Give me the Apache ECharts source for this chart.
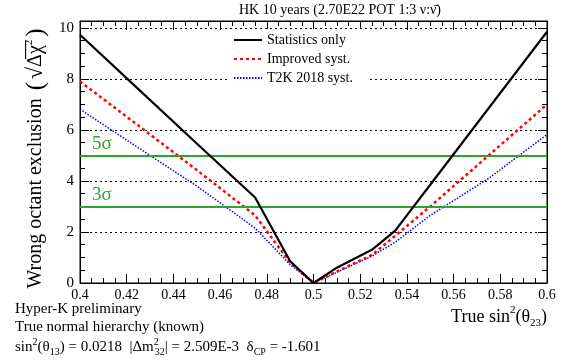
<!DOCTYPE html>
<html>
<head>
<meta charset="utf-8">
<script src="https://cdn.jsdelivr.net/npm/echarts@6/dist/echarts.min.js"></script>
<style>
  html, body { margin: 0; padding: 0; background: #fff; }
  #chart { width: 566px; height: 361px; }
</style>
</head>
<body>
<div id="chart"></div>
<script>
  // true sin^2(theta23) points and exclusion sigma for each systematics model
  const sin2t23 = [0.4, 0.425, 0.45, 0.475, 0.49, 0.5, 0.51, 0.525, 0.535, 0.55, 0.575, 0.6];
  const statOnly = [9.73, 7.6, 5.47, 3.35, 0.85, 0, 0.6, 1.3, 2.05, 3.85, 6.85, 9.85];
  const improved = [7.9, 6.17, 4.43, 2.65, 0.8, 0, 0.45, 1.1, 1.85, 3.0, 5.0, 7.0];
  const t2k2018 = [6.81, 5.3, 3.8, 2.15, 0.72, 0, 0.42, 1.05, 1.6, 2.65, 4.1, 5.82];
  const seriesNames = ['Statistics only', 'Improved syst.', 'T2K 2018 syst.'];
  const sigmaLevels = [3, 5];

  const FONT = '"Liberation Serif", "DejaVu Serif", serif';
  const green = '#2ea32e';

  const pairs = ys => sin2t23.map((x, i) => [x, ys[i]]);

  const chart = echarts.init(document.getElementById('chart'));

  const xBase = {
    type: 'value', min: 0.4, max: 0.6, interval: 0.02,
    axisLine: {show: true, onZero: false, lineStyle: {color: '#000', width: 1}},
    axisTick: {show: true, inside: true, length: 9, lineStyle: {color: '#000'}},
    minorTick: {show: true, splitNumber: 4, length: 5, lineStyle: {color: '#000'}},
    splitLine: {show: false}
  };
  const yBase = {
    type: 'value', min: 0, max: 10.27, interval: 2,
    axisLine: {show: true, onZero: false, lineStyle: {color: '#000', width: 1}},
    axisTick: {show: true, inside: true, length: 9, lineStyle: {color: '#000'}},
    minorTick: {show: true, splitNumber: 4, length: 5, lineStyle: {color: '#000'}}
  };

  chart.setOption({
    animation: false,
    backgroundColor: '#fff',
    grid: {left: 80, right: 19, top: 21, bottom: 78, show: true, borderColor: '#000', borderWidth: 1},
    legend: {
      orient: 'vertical', left: 228, top: 29,
      itemWidth: 28, itemHeight: 12, itemGap: 5,
      backgroundColor: '#fff', padding: [4, 16, 5, 5],
      itemStyle: {opacity: 0},
      textStyle: {fontFamily: FONT, fontSize: 14, color: '#000'},
      data: seriesNames
    },
    xAxis: [
      Object.assign({}, xBase, {
        position: 'bottom',
        axisLabel: {color: '#000', fontFamily: FONT, fontSize: 14, margin: 5,
          formatter: v => String(+v.toFixed(2))}
      }),
      Object.assign({}, xBase, {position: 'top', axisLabel: {show: false}})
    ],
    yAxis: [
      Object.assign({}, yBase, {
        position: 'left',
        axisLabel: {color: '#000', fontFamily: FONT, fontSize: 15, margin: 6, showMaxLabel: false},
        splitLine: {show: true, lineStyle: {color: '#000', type: [2, 3], width: 1}}
      }),
      Object.assign({}, yBase, {position: 'right', axisLabel: {show: false}, splitLine: {show: false}})
    ],
    series: [
      {
        name: seriesNames[0], type: 'line', symbol: 'none', data: pairs(statOnly),
        lineStyle: {color: '#000', width: 2.2}, itemStyle: {color: '#000'}, z: 5,
        markLine: {
          silent: true, symbol: 'none',
          lineStyle: {color: green, width: 2, type: 'solid'},
          label: {position: 'insideStartTop', color: green, fontFamily: FONT, fontSize: 19,
            distance: [12, 2], formatter: p => p.value + 'σ'},
          data: sigmaLevels.map(v => ({yAxis: v}))
        }
      },
      {
        name: seriesNames[1], type: 'line', symbol: 'none', data: pairs(improved),
        lineStyle: {color: '#ff0000', width: 2.5, type: [3, 3]}, itemStyle: {color: '#ff0000'}, z: 4
      },
      {
        name: seriesNames[2], type: 'line', symbol: 'none', data: pairs(t2k2018),
        lineStyle: {color: '#0000ff', width: 1.5, type: [1.5, 1.5]}, itemStyle: {color: '#0000ff'}, z: 3
      }
    ],
    graphic: [
      {
        type: 'text', x: 340, y: 10,
        style: {text: 'HK 10 years (2.70E22 POT 1:3 ν:ν\u0304)', fontFamily: FONT, fontSize: 14,
          fill: '#000', align: 'center', verticalAlign: 'middle'}
      },
      {
        type: 'text', x: 36, y: 157, rotation: Math.PI / 2,
        style: {
          text: 'Wrong octant exclusion {p|(}{s|√}{o|Δ\u0305χ\u0305}{sup|2}{p|)}',
          fontFamily: FONT, fontSize: 20, fill: '#000', align: 'center', verticalAlign: 'middle',
          rich: {
            p: {fontFamily: FONT, fontSize: 25, fill: '#000', padding: [0, 3]},
            s: {fontFamily: FONT, fontSize: 22, fill: '#000'},
            o: {fontFamily: FONT, fontSize: 20, fill: '#000'},
            sup: {fontFamily: FONT, fontSize: 11, fill: '#000', verticalAlign: 'top', lineHeight: 24}
          }
        }
      },
      {
        type: 'text', right: 19, top: 305,
        style: {
          text: 'True sin{sup|2}(θ{sub|23})',
          fontFamily: FONT, fontSize: 18, fill: '#000', lineHeight: 24,
          rich: {
            sup: {fontFamily: FONT, fontSize: 11, fill: '#000', verticalAlign: 'top', lineHeight: 24},
            sub: {fontFamily: FONT, fontSize: 11, fill: '#000', verticalAlign: 'bottom', lineHeight: 22}
          }
        }
      },
      {
        type: 'text', left: 15, top: 302,
        style: {text: 'Hyper-K preliminary', fontFamily: FONT, fontSize: 15, fill: '#000'}
      },
      {
        type: 'text', left: 15, top: 320,
        style: {text: 'True normal hierarchy (known)', fontFamily: FONT, fontSize: 15, fill: '#000'}
      },
      {
        type: 'text', left: 15, top: 337,
        style: {
          text: 'sin{sup|2}(θ{sub|13}) = 0.0218  |Δm{sup2|2}{sub|32}| = 2.509E-3  δ{sub|CP} = -1.601',
          fontFamily: FONT, fontSize: 15, fill: '#000', lineHeight: 20,
          rich: {
            sup: {fontFamily: FONT, fontSize: 10, fill: '#000', verticalAlign: 'top', lineHeight: 20},
            sup2: {fontFamily: FONT, fontSize: 10, fill: '#000', verticalAlign: 'top', lineHeight: 20, width: 1},
            sub: {fontFamily: FONT, fontSize: 10, fill: '#000', verticalAlign: 'bottom', lineHeight: 18}
          }
        }
      }
    ]
  });
</script>
</body>
</html>
